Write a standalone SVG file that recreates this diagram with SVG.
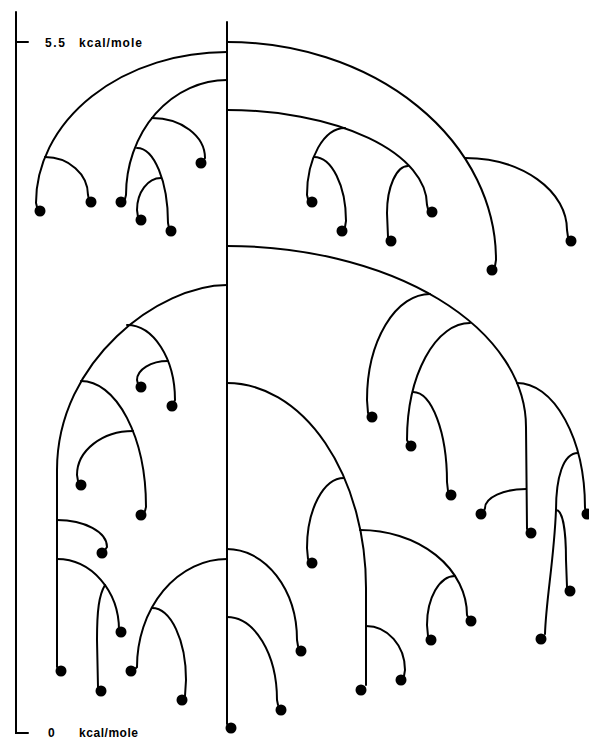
<svg xmlns="http://www.w3.org/2000/svg" width="589" height="740" viewBox="0 0 589 740">
<style>
.c{fill:none;stroke:#000;stroke-width:2;stroke-linecap:round}
.d{fill:#000}
.t{font-family:"Liberation Sans",Arial,sans-serif;font-weight:bold;font-size:12px;fill:#000}
</style>
<rect width="589" height="740" fill="#fff"/>
<g id="axis">
<path class="c" d="M16,12 L16,733 L28,733 M16,42 L28,42"/>
<text class="t" x="45" y="47" textLength="20">5.5</text>
<text class="t" x="79" y="47" textLength="63">kcal/mole</text>
<text class="t" x="48" y="737">0</text>
<text class="t" x="79" y="737" textLength="59">kcal/mole</text>
</g>
<g id="connectors">
<path class="c" d="M227,22 L227,724"/>
<path class="c" d="M227,52 A191,151 0 0 0 36,203 L37,207"/>
<path class="c" d="M45,157 A43,38 0 0 1 88,195 L89,200"/>
<path class="c" d="M227,80 A101,115 0 0 0 126,195 L125,199"/>
<path class="c" d="M152,118 A53,40 0 0 1 205,158 L203,161"/>
<path class="c" d="M137,148 A31,75 0 0 1 168,223 L169,228"/>
<path class="c" d="M161,178 A24,32 0 0 0 137,210 L138,217"/>
<path class="c" d="M227,42 A269,218 0 0 1 496,260 L495,266"/>
<path class="c" d="M465,158 A102,72 0 0 1 567,230 L568,237"/>
<path class="c" d="M227,110 A200,95 0 0 1 427,205 L428,209"/>
<path class="c" d="M345,128 A38,67 0 0 0 307,195 L308,199"/>
<path class="c" d="M314,157 A32,64 0 0 1 346,221 L345,227"/>
<path class="c" d="M408,166 A21,47 0 0 0 387,213 L388,237"/>
<path class="c" d="M227,246 A299,181 0 0 1 526,427 L527,529"/>
<path class="c" d="M430,294 A63,106 0 0 0 367,400 L368,413"/>
<path class="c" d="M470,323 A63,117 0 0 0 407,440 L408,442"/>
<path class="c" d="M413,392 A34,90 0 0 1 447,482 L448,491"/>
<path class="c" d="M517,383 A68,125 0 0 1 585,508 L586,511"/>
<path class="c" d="M578,453 C563,453 556,478 556,510 C554,560 546,600 545,634"/>
<path class="c" d="M556,510 C563,510 566,532 566,560 L567,587"/>
<path class="c" d="M526,489 A41,19 0 0 0 485,508 L484,511"/>
<path class="c" d="M227,383 A139,205 0 0 1 366,588 L366,685"/>
<path class="c" d="M344,478 A37,70 0 0 0 307,548 L308,559"/>
<path class="c" d="M360,530 A107,85 0 0 1 467,615 L468,617"/>
<path class="c" d="M455,576 A28,49 0 0 0 427,625 L428,636"/>
<path class="c" d="M366,626 A39,44 0 0 1 405,670 L404,676"/>
<path class="c" d="M227,549 A70,91 0 0 1 297,640 L298,646"/>
<path class="c" d="M227,617 A50,83 0 0 1 277,700 L278,705"/>
<path class="c" d="M227,285 C160,285 57,360 57,470 L57,667"/>
<path class="c" d="M127,325 A48,75 0 0 1 175,400 L174,402"/>
<path class="c" d="M168,361 A31,19 0 0 0 137,380 L138,384"/>
<path class="c" d="M81,381 A65,126 0 0 1 146,507 L145,511"/>
<path class="c" d="M133,431 A56,44 0 0 0 77,475 L78,481"/>
<path class="c" d="M57,520 A50,27 0 0 1 107,547 L105,550"/>
<path class="c" d="M57,559 A62,71 0 0 1 119,630 L120,630"/>
<path class="c" d="M105,585 C99,595 97,610 97,640 L98,687"/>
<path class="c" d="M227,559 A90,108 0 0 0 137,667 L136,668"/>
<path class="c" d="M152,608 A34,72 0 0 1 186,680 L185,696"/>
</g>
<g id="nodes">
<g id="n1"><circle class="d" cx="40" cy="211" r="5.5"/></g>
<g id="n2"><circle class="d" cx="91" cy="202" r="5.5"/></g>
<g id="n3"><circle class="d" cx="121" cy="202" r="5.5"/></g>
<g id="n4"><circle class="d" cx="201" cy="163" r="5.5"/></g>
<g id="n5"><circle class="d" cx="171" cy="231" r="5.5"/></g>
<g id="n6"><circle class="d" cx="141" cy="220" r="5.5"/></g>
<g id="n7"><circle class="d" cx="492" cy="270" r="5.5"/></g>
<g id="n8"><circle class="d" cx="571" cy="241" r="5.5"/></g>
<g id="n9"><circle class="d" cx="432" cy="212" r="5.5"/></g>
<g id="n10"><circle class="d" cx="312" cy="202" r="5.5"/></g>
<g id="n11"><circle class="d" cx="342" cy="231" r="5.5"/></g>
<g id="n12"><circle class="d" cx="391" cy="241" r="5.5"/></g>
<g id="n13"><circle class="d" cx="531" cy="533" r="5.5"/></g>
<g id="n14"><circle class="d" cx="372" cy="417" r="5.5"/></g>
<g id="n15"><circle class="d" cx="411" cy="446" r="5.5"/></g>
<g id="n16"><circle class="d" cx="451" cy="495" r="5.5"/></g>
<g id="n17"><circle class="d" cx="587" cy="514" r="5.5"/></g>
<g id="n18"><circle class="d" cx="541" cy="639" r="5.5"/></g>
<g id="n19"><circle class="d" cx="570" cy="591" r="5.5"/></g>
<g id="n20"><circle class="d" cx="481" cy="514" r="5.5"/></g>
<g id="n21"><circle class="d" cx="361" cy="690" r="5.5"/></g>
<g id="n22"><circle class="d" cx="312" cy="563" r="5.5"/></g>
<g id="n23"><circle class="d" cx="471" cy="621" r="5.5"/></g>
<g id="n24"><circle class="d" cx="431" cy="640" r="5.5"/></g>
<g id="n25"><circle class="d" cx="401" cy="680" r="5.5"/></g>
<g id="n26"><circle class="d" cx="301" cy="651" r="5.5"/></g>
<g id="n27"><circle class="d" cx="281" cy="710" r="5.5"/></g>
<g id="n28"><circle class="d" cx="231" cy="728" r="5.5"/></g>
<g id="n29"><circle class="d" cx="61" cy="671" r="5.5"/></g>
<g id="n30"><circle class="d" cx="172" cy="406" r="5.5"/></g>
<g id="n31"><circle class="d" cx="141" cy="387" r="5.5"/></g>
<g id="n32"><circle class="d" cx="141" cy="515" r="5.5"/></g>
<g id="n33"><circle class="d" cx="81" cy="485" r="5.5"/></g>
<g id="n34"><circle class="d" cx="102" cy="553" r="5.5"/></g>
<g id="n35"><circle class="d" cx="121" cy="632" r="5.5"/></g>
<g id="n36"><circle class="d" cx="101" cy="691" r="5.5"/></g>
<g id="n37"><circle class="d" cx="131" cy="671" r="5.5"/></g>
<g id="n38"><circle class="d" cx="182" cy="700" r="5.5"/></g>
</g>
</svg>
